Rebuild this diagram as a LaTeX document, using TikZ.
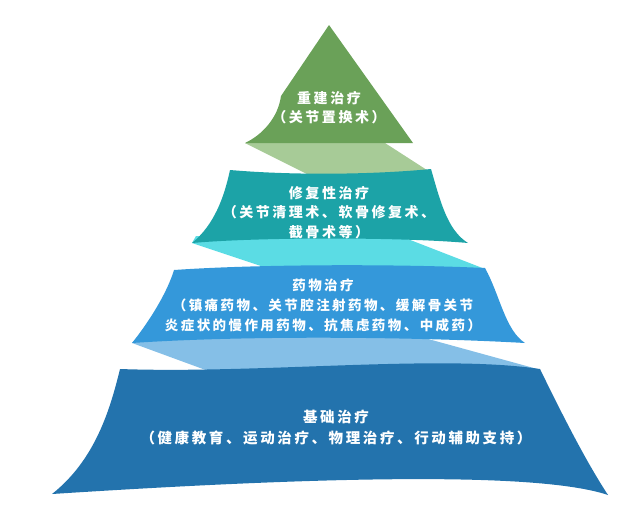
\documentclass[tikz,border=0pt]{standalone}
\usepackage{fontspec}
\newfontfamily\cjk[LetterSpace=18]{Noto Sans CJK SC}
\definecolor{cGreen}{HTML}{6AA158}
\definecolor{cGreenL}{HTML}{A7CB97}
\definecolor{cTeal}{HTML}{1CA3A7}
\definecolor{cCyan}{HTML}{5BDCE4}
\definecolor{cBlue}{HTML}{3498DA}
\definecolor{cBlueL}{HTML}{85BFE7}
\definecolor{cNavy}{HTML}{2373AD}
\tikzset{
  lvltext/.style={text=white, align=center, inner sep=0pt},
}
\begin{document}
\begin{tikzpicture}[x=1pt,y=-1pt]
\useasboundingbox (0,0) rectangle (644,509);
% connecting bands
\fill[cGreenL] (245,143) -- (385,143) -- (430,172) -- (313,177) -- cycle;
\fill[cCyan] (192,243) -- (196,236) -- (400,236) -- (485,269) -- (282,273) -- cycle;
\fill[cBlueL] (132,343) -- (140,334) -- (410,334) -- (541,370) -- (222,376) -- cycle;
% level 1 (top)
\fill[cGreen] (329,25) -- (281,96) .. controls (278,118) and (262,135) .. (245,143)
  -- (413,143) -- cycle;
% level 2
\fill[cTeal] (230,170) .. controls (300,176) and (380,174) .. (431,169)
  .. controls (440,200) and (447,230) .. (468,243)
  .. controls (400,237) and (260,237) .. (192,243)
  .. controls (214,225) and (224,198) .. (230,170) -- cycle;
% level 3
\fill[cBlue] (174,270) .. controls (260,264) and (400,264) .. (485,268)
  .. controls (500,295) and (505,330) .. (525,343)
  .. controls (420,337) and (250,335) .. (132,343)
  .. controls (152,318) and (168,290) .. (174,270) -- cycle;
% level 4
\fill[cNavy] (120,369) .. controls (260,374) and (440,354) .. (540,369)
  .. controls (560,410) and (585,460) .. (608,495)
  .. controls (540,472) and (330,476) .. (52,494)
  .. controls (95,460) and (110,410) .. (120,369) -- cycle;
% texts
\node[lvltext, font={\cjk\bfseries\fontsize{14}{19}\selectfont}] (t1) at (329,107.5)
  {重建治疗\\（关节置换术）};
\node[lvltext, font={\cjk\bfseries\fontsize{14}{19.5}\selectfont}] (t2) at (329,212.5)
  {修复性治疗\\（关节清理术、软骨修复术、\\截骨术等）};
\node[lvltext, font={\cjk\bfseries\fontsize{13.5}{20}\selectfont}] (t3) at (323,305)
  {药物治疗\\（镇痛药物、关节腔注射药物、缓解骨关节\\炎症状的慢作用药物、抗焦虑药物、中成药）};
\node[lvltext, font={\cjk\bfseries\fontsize{14.5}{21}\selectfont}] (t4) at (336,427.5)
  {基础治疗\\（健康教育、运动治疗、物理治疗、行动辅助支持）};
\end{tikzpicture}
\end{document}
